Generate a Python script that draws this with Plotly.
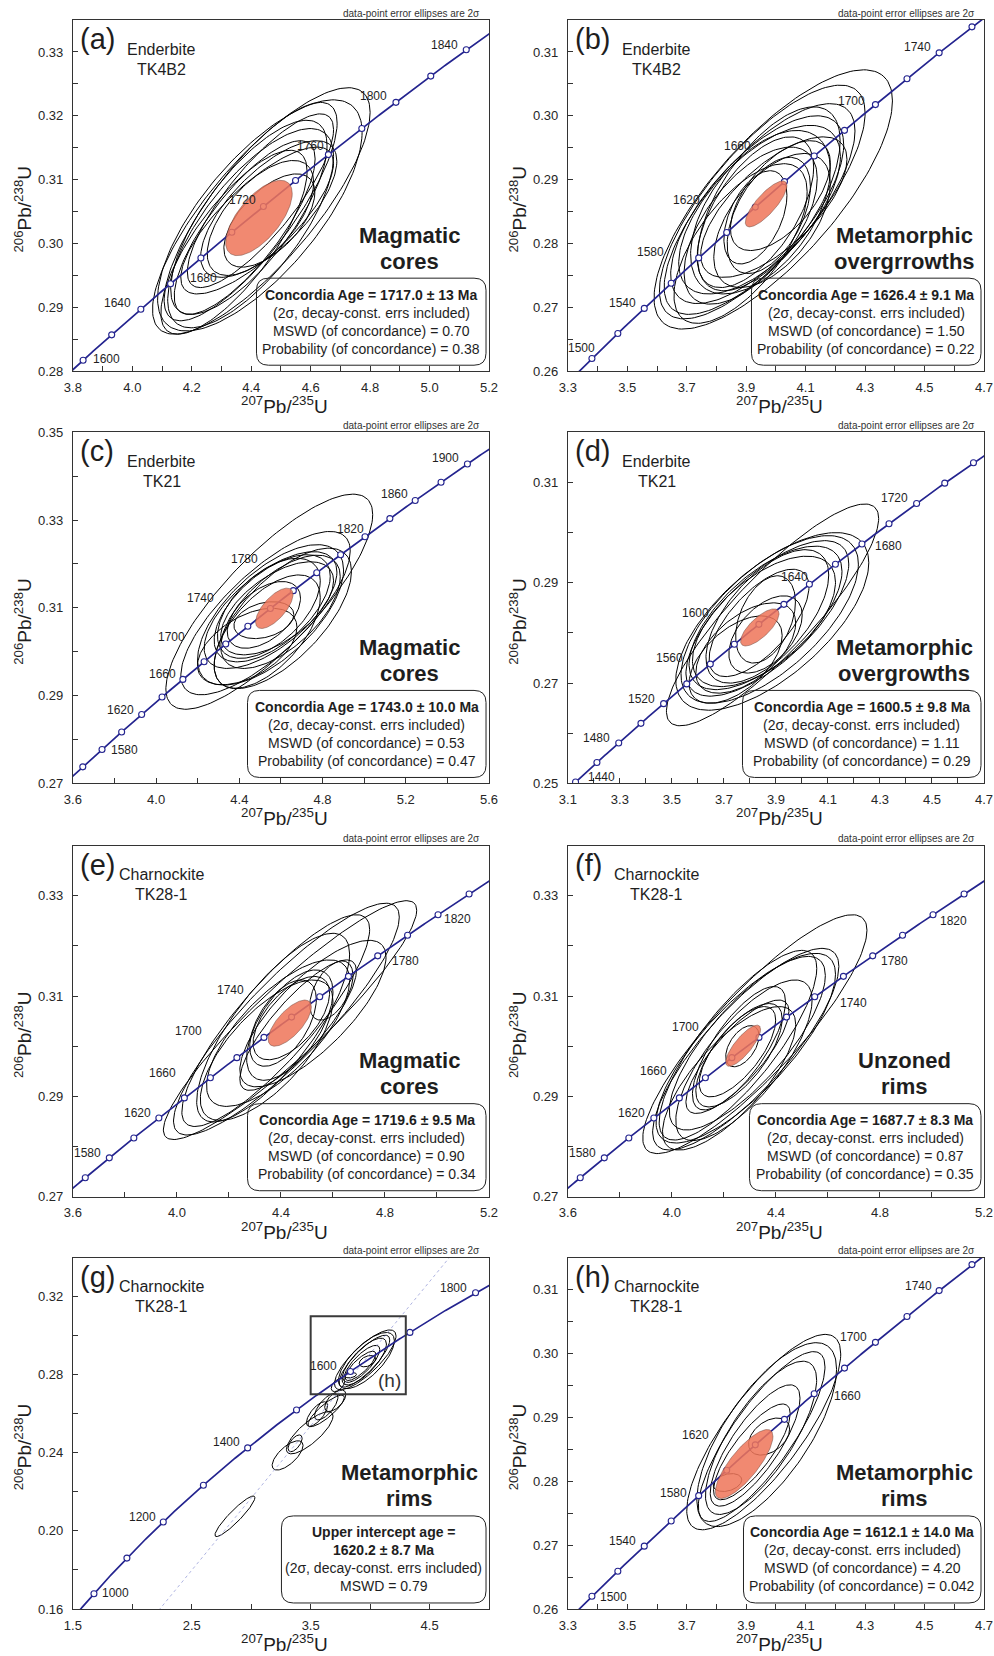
import numpy as np
import plotly.graph_objects as go

# U decay constants (1/yr)
LAMBDA_238 = 1.55125e-10
LAMBDA_235 = 9.8485e-10

# ---------------------------------------------------------------------------
# Analyses: (207Pb/235U, 2s, 206Pb/238U, 2s, rho)
# ---------------------------------------------------------------------------
ELL_A = [
    (4.434, 0.366, 0.3051, 0.0193, 0.80),
    (4.429, 0.344, 0.3044, 0.0181, 0.72),
    (4.398, 0.291, 0.3050, 0.0171, 0.81),
    (4.398, 0.279, 0.3024, 0.0156, 0.72),
    (4.378, 0.237, 0.3025, 0.0136, 0.79),
    (4.420, 0.257, 0.3036, 0.0115, 0.78),
    (4.431, 0.179, 0.3040, 0.0090, 0.62),
    (4.461, 0.153, 0.3036, 0.0073, 0.60),
    (4.342, 0.246, 0.3002, 0.0144, 0.77),
    (4.392, 0.263, 0.3041, 0.0152, 0.74),
    (4.431, 0.246, 0.3067, 0.0136, 0.82),
    (4.459, 0.229, 0.3054, 0.0107, 0.70),
]
MEAN_A = (4.426, 0.112, 0.3040, 0.0059, 0.65)

ELL_B = [
    (3.991, 0.401, 0.2869, 0.0203, 0.76),
    (3.954, 0.346, 0.2865, 0.0183, 0.76),
    (3.945, 0.321, 0.2854, 0.0165, 0.74),
    (3.937, 0.291, 0.2853, 0.0147, 0.69),
    (3.945, 0.272, 0.2853, 0.0132, 0.63),
    (3.948, 0.235, 0.2849, 0.0128, 0.52),
    (3.931, 0.196, 0.2849, 0.0118, 0.60),
    (3.931, 0.106, 0.2841, 0.0073, 0.47),
    (3.976, 0.140, 0.2844, 0.0091, 0.50),
    (3.915, 0.224, 0.2828, 0.0123, 0.60),
    (3.976, 0.240, 0.2870, 0.0144, 0.63),
    (3.987, 0.196, 0.2836, 0.0105, 0.55),
    (3.881, 0.224, 0.2800, 0.0125, 0.65),
    (3.993, 0.246, 0.2857, 0.0110, 0.68),
    (4.015, 0.168, 0.2875, 0.0086, 0.60),
]
MEAN_B = (3.967, 0.070, 0.2862, 0.0036, 0.80)

ELL_C = [
    (4.544, 0.497, 0.3114, 0.0245, 0.81),
    (4.526, 0.407, 0.3088, 0.0186, 0.76),
    (4.550, 0.351, 0.3084, 0.0160, 0.64),
    (4.550, 0.319, 0.3095, 0.0133, 0.65),
    (4.558, 0.279, 0.3099, 0.0122, 0.60),
    (4.542, 0.247, 0.3099, 0.0114, 0.55),
    (4.582, 0.271, 0.3099, 0.0106, 0.59),
    (4.609, 0.330, 0.3076, 0.0160, 0.67),
    (4.518, 0.176, 0.3084, 0.0076, 0.50),
    (4.518, 0.144, 0.3072, 0.0042, 0.30),
    (4.438, 0.239, 0.3012, 0.0087, 0.50),
    (4.534, 0.255, 0.3046, 0.0129, 0.60),
    (4.598, 0.287, 0.3091, 0.0129, 0.62),
]
MEAN_C = (4.568, 0.090, 0.3099, 0.0046, 0.68)

ELL_D = [
    (3.887, 0.408, 0.2836, 0.0221, 0.87),
    (3.886, 0.371, 0.2823, 0.0177, 0.66),
    (3.876, 0.341, 0.2827, 0.0167, 0.66),
    (3.867, 0.313, 0.2829, 0.0155, 0.70),
    (3.860, 0.294, 0.2830, 0.0143, 0.65),
    (3.854, 0.275, 0.2823, 0.0130, 0.60),
    (3.835, 0.192, 0.2820, 0.0107, 0.67),
    (3.860, 0.141, 0.2797, 0.0077, 0.50),
    (3.860, 0.115, 0.2827, 0.0087, 0.40),
    (3.745, 0.179, 0.2747, 0.0087, 0.55),
    (3.784, 0.192, 0.2770, 0.0090, 0.55),
    (3.867, 0.236, 0.2833, 0.0133, 0.62),
]
MEAN_D = (3.838, 0.074, 0.2811, 0.0037, 0.74)

ELL_E = [
    (4.435, 0.487, 0.3052, 0.0238, 0.92),
    (4.421, 0.434, 0.3054, 0.0231, 0.88),
    (4.380, 0.361, 0.3051, 0.0211, 0.86),
    (4.370, 0.294, 0.3037, 0.0188, 0.78),
    (4.389, 0.275, 0.3026, 0.0146, 0.72),
    (4.523, 0.281, 0.3065, 0.0146, 0.77),
    (4.466, 0.224, 0.3042, 0.0130, 0.83),
    (4.434, 0.166, 0.3042, 0.0110, 0.60),
    (4.408, 0.128, 0.3046, 0.0086, 0.55),
    (4.440, 0.147, 0.3056, 0.0083, 0.60),
    (4.594, 0.083, 0.3111, 0.0059, 0.50),
    (4.345, 0.255, 0.2992, 0.0140, 0.70),
]
MEAN_E = (4.434, 0.083, 0.3046, 0.0046, 0.70)

ELL_F = [
    (4.319, 0.431, 0.3024, 0.0238, 0.87),
    (4.284, 0.358, 0.2994, 0.0201, 0.82),
    (4.284, 0.345, 0.2996, 0.0189, 0.78),
    (4.254, 0.303, 0.3002, 0.0189, 0.81),
    (4.290, 0.300, 0.3006, 0.0173, 0.78),
    (4.252, 0.198, 0.2979, 0.0113, 0.80),
    (4.258, 0.179, 0.2996, 0.0123, 0.75),
    (4.258, 0.166, 0.2982, 0.0103, 0.70),
    (4.252, 0.147, 0.2989, 0.0090, 0.70),
    (4.271, 0.064, 0.3000, 0.0041, 0.50),
    (4.277, 0.262, 0.2972, 0.0160, 0.75),
    (4.220, 0.256, 0.2936, 0.0143, 0.75),
]
MEAN_F = (4.274, 0.067, 0.3001, 0.0041, 0.80)

ELL_H = [
    (3.959, 0.259, 0.2877, 0.0153, 0.80),
    (3.969, 0.235, 0.2873, 0.0144, 0.71),
    (3.952, 0.213, 0.2870, 0.0133, 0.82),
    (3.950, 0.187, 0.2868, 0.0120, 0.75),
    (3.930, 0.151, 0.2856, 0.0095, 0.78),
    (3.919, 0.129, 0.2846, 0.0075, 0.80),
    (3.977, 0.069, 0.2870, 0.0029, 0.40),
    (3.837, 0.048, 0.2798, 0.0014, 0.30),
]
MEAN_H = (3.893, 0.097, 0.2827, 0.0054, 0.80)

# discordant rim analyses (shown together with ELL_H in panel g)
ELL_G_DISC = [
    (2.863, 0.168, 0.2075, 0.0104, 0.92),
    (3.306, 0.130, 0.2387, 0.0075, 0.68),
    (3.492, 0.196, 0.2503, 0.0108, 0.79),
    (3.369, 0.059, 0.2449, 0.0043, 0.60),
    (3.553, 0.089, 0.2599, 0.0063, 0.70),
    (3.631, 0.098, 0.2637, 0.0068, 0.70),
    (3.630, 0.153, 0.2615, 0.0081, 0.85),
    (3.707, 0.089, 0.2667, 0.0055, 0.60),
    (3.729, 0.056, 0.2748, 0.0034, 0.50),
]
# discordia intercept ages (Ma)
DISCORDIA_G = (-60.0, 1620.2)

# concordia age ticks: (first, last, step) in Ma, and labelled ages
GRID_A, LABELS_A = (1560, 1880, 20), [1600, 1640, 1680, 1720, 1760, 1800, 1840]
GRID_B, LABELS_B = (1480, 1760, 20), [1500, 1540, 1580, 1620, 1660, 1700, 1740]
GRID_C, LABELS_C = (1540, 1920, 20), [1580, 1620, 1660, 1700, 1740, 1780, 1820, 1860, 1900]
GRID_D, LABELS_D = (1420, 1760, 20), [1440, 1480, 1520, 1560, 1600, 1640, 1680, 1720]
GRID_E, LABELS_E = (1560, 1840, 20), [1580, 1620, 1660, 1700, 1740, 1780, 1820]
GRID_F, LABELS_F = (1560, 1840, 20), [1580, 1620, 1660, 1700, 1740, 1780, 1820]
GRID_G, LABELS_G = (900, 1900, 100), [1000, 1200, 1400, 1600, 1800]
GRID_H, LABELS_H = (1480, 1760, 20), [1500, 1540, 1580, 1620, 1660, 1700, 1740]

SAMPLE_TK4B2 = ["Enderbite", "TK4B2"]
SAMPLE_TK21 = ["Enderbite", "TK21"]
SAMPLE_TK28 = ["Charnockite", "TK28-1"]

GROUP_A = ["Magmatic", "cores"]
GROUP_B = ["Metamorphic", "overgrrowths"]
GROUP_C = ["Magmatic", "cores"]
GROUP_D = ["Metamorphic", "overgrowths"]
GROUP_E = ["Magmatic", "cores"]
GROUP_F = ["Unzoned", "rims"]
GROUP_G = ["Metamorphic", "rims"]
GROUP_H = ["Metamorphic", "rims"]

ERRS = "(2σ, decay-const. errs included)"
STATS_A = ["Concordia Age = 1717.0 ± 13 Ma", ERRS, "MSWD (of concordance) = 0.70", "Probability (of concordance) = 0.38"]
STATS_B = ["Concordia Age = 1626.4 ± 9.1 Ma", ERRS, "MSWD (of concordance) = 1.50", "Probability (of concordance) = 0.22"]
STATS_C = ["Concordia Age = 1743.0 ± 10.0 Ma", ERRS, "MSWD (of concordance) = 0.53", "Probability (of concordance) = 0.47"]
STATS_D = ["Concordia Age = 1600.5 ± 9.8 Ma", ERRS, "MSWD (of concordance) = 1.11", "Probability (of concordance) = 0.29"]
STATS_E = ["Concordia Age = 1719.6 ± 9.5 Ma", ERRS, "MSWD (of concordance) = 0.90", "Probability (of concordance) = 0.34"]
STATS_F = ["Concordia Age = 1687.7 ± 8.3 Ma", ERRS, "MSWD (of concordance) = 0.87", "Probability (of concordance) = 0.35"]
STATS_G = ["Upper intercept age =", "1620.2 ± 8.7 Ma", ERRS, "MSWD = 0.79"]
STATS_H = ["Concordia Age = 1612.1 ± 14.0 Ma", ERRS, "MSWD (of concordance) = 4.20", "Probability (of concordance) = 0.042"]

# ---------------------------------------------------------------------------
# Layout / style
# ---------------------------------------------------------------------------
W, H = 994, 1656
INSET = 8                      # page inset around the drawing area
COL_LEFT = [72, 568]
ROW_TOP = [21, 433, 846, 1258]
PLOT_W, PLOT_H = 417, 351

FONT = "Liberation Sans, Arial, Helvetica, sans-serif"
NAVY = "#24248f"
INK = "#1e1e1e"
MEAN_FILL = "rgba(239,118,90,0.86)"

# age-label offsets from their concordia tick (dx right, dy up) in px
OFFS_A = {1600: (23, 1), 1640: (-23, 6), 1680: (3, -20), 1720: (-21, 6), 1760: (-18, 9), 1800: (-22, 6), 1840: (-22, 5)}
OFFS_B = {1500: (-10, 11), 1540: (-22, 5), 1580: (-48, 6), 1620: (-69, 7), 1660: (-77, 10), 1700: (-24, 4), 1740: (-22, 6)}
OFFS_C = {1580: (22, -1), 1620: (-21, 5), 1660: (-20, 5), 1700: (-54, 7), 1740: (-70, 10), 1780: (-72, 14),
          1820: (-15, 8), 1860: (-21, 6), 1900: (-22, 6)}
OFFS_D = {1440: (26, 5), 1480: (-22, 5), 1520: (-22, 5), 1560: (-41, 6), 1600: (-63, 11), 1640: (-15, 7),
          1680: (27, -2), 1720: (-22, 6)}
OFFS_E = {1580: (-22, 5), 1620: (-21, 5), 1660: (-48, 5), 1700: (-75, 6), 1740: (-89, 7), 1780: (28, -5), 1820: (19, -4)}
OFFS_F = {1580: (-22, 5), 1620: (-22, 5), 1660: (-52, 7), 1700: (-73, 10), 1740: (39, -6), 1780: (22, -5), 1820: (20, -6)}
OFFS_G = {1000: (22, 1), 1200: (-21, 5), 1400: (-21, 6), 1600: (-27, 5), 1800: (-22, 5)}
OFFS_H = {1500: (22, -1), 1540: (-22, 5), 1580: (-25, 3), 1620: (-60, 10), 1660: (33, -2), 1700: (-22, 5), 1740: (-21, 5)}

PANELS = [
    dict(tag="(a)", ell=ELL_A, mean=MEAN_A, sample=SAMPLE_TK4B2, group=GROUP_A, stats=STATS_A, bold=1,
         xr=(3.8, 5.2), xt=(3.8, 0.2, 0.1), yr=(0.28, 0.335), yt=(0.28, 0.01, 0.005),
         grid=GRID_A, labels=LABELS_A, offs=OFFS_A, boxw=230, col=0, row=0),
    dict(tag="(b)", ell=ELL_B, mean=MEAN_B, sample=SAMPLE_TK4B2, group=GROUP_B, stats=STATS_B, bold=1,
         xr=(3.3, 4.7), xt=(3.3, 0.2, 0.1), yr=(0.26, 0.315), yt=(0.26, 0.01, 0.005),
         grid=GRID_B, labels=LABELS_B, offs=OFFS_B, boxw=230, col=1, row=0),
    dict(tag="(c)", ell=ELL_C, mean=MEAN_C, sample=SAMPLE_TK21, group=GROUP_C, stats=STATS_C, bold=1,
         xr=(3.6, 5.6), xt=(3.6, 0.4, 0.2), yr=(0.27, 0.35), yt=(0.27, 0.02, 0.01),
         grid=GRID_C, labels=LABELS_C, offs=OFFS_C, boxw=239, col=0, row=1),
    dict(tag="(d)", ell=ELL_D, mean=MEAN_D, sample=SAMPLE_TK21, group=GROUP_D, stats=STATS_D, bold=1,
         xr=(3.1, 4.7), xt=(3.1, 0.2, 0.1), yr=(0.25, 0.32), yt=(0.25, 0.02, 0.01),
         grid=GRID_D, labels=LABELS_D, offs=OFFS_D, boxw=239, col=1, row=1),
    dict(tag="(e)", ell=ELL_E, mean=MEAN_E, sample=SAMPLE_TK28, group=GROUP_E, stats=STATS_E, bold=1,
         xr=(3.6, 5.2), xt=(3.6, 0.4, 0.2), yr=(0.27, 0.34), yt=(0.27, 0.02, 0.01),
         grid=GRID_E, labels=LABELS_E, offs=OFFS_E, boxw=239, col=0, row=2),
    dict(tag="(f)", ell=ELL_F, mean=MEAN_F, sample=SAMPLE_TK28, group=GROUP_F, stats=STATS_F, bold=1,
         xr=(3.6, 5.2), xt=(3.6, 0.4, 0.2), yr=(0.27, 0.34), yt=(0.27, 0.02, 0.01),
         grid=GRID_F, labels=LABELS_F, offs=OFFS_F, boxw=232, col=1, row=2),
    dict(tag="(g)", ell=ELL_H + ELL_G_DISC, mean=None, sample=SAMPLE_TK28, group=GROUP_G, stats=STATS_G, bold=2,
         xr=(1.5, 5.0), xt=(1.5, 1.0, 0.5), yr=(0.16, 0.34), yt=(0.16, 0.04, 0.02),
         grid=GRID_G, labels=LABELS_G, offs=OFFS_G, boxw=205, col=0, row=3),
    dict(tag="(h)", ell=ELL_H, mean=MEAN_H, sample=SAMPLE_TK28, group=GROUP_H, stats=STATS_H, bold=1,
         xr=(3.3, 4.7), xt=(3.3, 0.2, 0.1), yr=(0.26, 0.315), yt=(0.26, 0.01, 0.005),
         grid=GRID_H, labels=LABELS_H, offs=OFFS_H, boxw=238, col=1, row=3),
]
ZOOM_BOX_G = (3.5, 4.3, 0.27, 0.31)


def concordia(age_ma):
    t = np.asarray(age_ma, dtype=float) * 1e6
    return np.expm1(LAMBDA_235 * t), np.expm1(LAMBDA_238 * t)


def ellipse(x, sx, y, sy, rho, n=160):
    th = np.linspace(0, 2 * np.pi, n)
    ex = x + sx * np.cos(th)
    ey = y + sy * (rho * np.cos(th) + np.sqrt(1 - rho ** 2) * np.sin(th))
    return ex, ey


# page pixel -> paper fraction (paper area sits INSET px inside the page)
def PX(v):
    return (v - INSET) / (W - 2 * INSET)


def PY(v):
    return 1 - (v - INSET) / (H - 2 * INSET)


def rounded_box(x0, y0, x1, y1, r):
    def p(x, y):
        return f"{PX(x):.5f},{PY(y):.5f}"
    return (f"M {p(x0 + r, y0)} L {p(x1 - r, y0)} Q {p(x1, y0)} {p(x1, y0 + r)} "
            f"L {p(x1, y1 - r)} Q {p(x1, y1)} {p(x1 - r, y1)} "
            f"L {p(x0 + r, y1)} Q {p(x0, y1)} {p(x0, y1 - r)} "
            f"L {p(x0, y0 + r)} Q {p(x0, y0)} {p(x0 + r, y0)} Z")


def text(x, y, s, size, bold=False, xanchor="center", yanchor="middle", angle=0, color=INK):
    return dict(x=PX(x), y=PY(y), xref="paper", yref="paper", text=f"<b>{s}</b>" if bold else s,
                showarrow=False, xanchor=xanchor, yanchor=yanchor, textangle=angle,
                font=dict(family=FONT, size=size, color=color))


AXIS = dict(showline=True, linecolor="#333333", linewidth=1, mirror=True, showgrid=False, zeroline=False,
            ticks="inside", ticklen=5, tickwidth=1, tickcolor="#333333",
            tickfont=dict(family=FONT, size=13, color="#262626"))

fig = go.Figure()
annotations, shapes = [], []

for i, p in enumerate(PANELS, start=1):
    sfx = "" if i == 1 else str(i)
    xa, ya = "x" + sfx, "y" + sfx
    L = COL_LEFT[p["col"]]
    T = ROW_TOP[p["row"]]
    R, B = L + PLOT_W, T + PLOT_H

    fig.update_layout(**{
        "xaxis" + sfx: dict(AXIS, domain=[PX(L), PX(R)], anchor=ya, range=list(p["xr"]),
                            tick0=p["xt"][0], dtick=p["xt"][1], tickformat=".1f", ticklabelstandoff=4,
                            minor=dict(tick0=p["xt"][0], dtick=p["xt"][2], ticks="inside", ticklen=5,
                                       tickcolor="#333333")),
        "yaxis" + sfx: dict(AXIS, domain=[PY(B), PY(T)], anchor=xa, range=list(p["yr"]),
                            tick0=p["yt"][0], dtick=p["yt"][1], tickformat=".2f", ticklabelstandoff=6,
                            minor=dict(tick0=p["yt"][0], dtick=p["yt"][2], ticks="inside", ticklen=5,
                                       tickcolor="#333333")),
    })

    # data-point error ellipses
    ex, ey = [], []
    for e in p["ell"]:
        x_, y_ = ellipse(*e)
        ex += list(x_) + [None]
        ey += list(y_) + [None]
    fig.add_trace(go.Scatter(x=ex, y=ey, mode="lines", line=dict(color="black", width=1.0),
                             xaxis=xa, yaxis=ya, hoverinfo="skip", showlegend=False))

    # discordia chord
    if p["tag"] == "(g)":
        lx, ly = concordia(list(DISCORDIA_G))
        s = np.array([0.0, 1.3])
        fig.add_trace(go.Scatter(x=lx[0] + s * (lx[1] - lx[0]), y=ly[0] + s * (ly[1] - ly[0]),
                                 mode="lines", line=dict(color="rgba(120,130,205,0.75)", width=0.8, dash="dot"),
                                 xaxis=xa, yaxis=ya, hoverinfo="skip", showlegend=False))

    # concordia curve with age ticks
    a0, a1, st = p["grid"]
    cx, cy = concordia(np.linspace(a0 - 150, a1 + 150, 700))
    fig.add_trace(go.Scatter(x=cx, y=cy, mode="lines", line=dict(color=NAVY, width=1.7),
                             xaxis=xa, yaxis=ya, hoverinfo="skip", showlegend=False))
    mx, my = concordia(np.arange(a0, a1 + 1, st))
    fig.add_trace(go.Scatter(x=mx, y=my, mode="markers",
                             marker=dict(size=6, color="white", line=dict(color=NAVY, width=1.1)),
                             xaxis=xa, yaxis=ya, hoverinfo="skip", showlegend=False))

    # concordia-age ellipse
    if p["mean"] is not None:
        x_, y_ = ellipse(*p["mean"])
        fig.add_trace(go.Scatter(x=x_, y=y_, mode="lines", fill="toself", fillcolor=MEAN_FILL,
                                 line=dict(color="rgba(110,70,60,0.7)", width=0.7),
                                 xaxis=xa, yaxis=ya, hoverinfo="skip", showlegend=False))

    for age in p["labels"]:
        lx, ly = concordia(age)
        dx, dy = p["offs"][age]
        annotations.append(dict(x=float(lx), y=float(ly), xref=xa, yref=ya, text=str(age), showarrow=False,
                                xshift=dx, yshift=dy, xanchor="center", yanchor="middle",
                                font=dict(family=FONT, size=12, color=INK)))

    # panel texts
    annotations.append(text(L + 5, T + 19, p["tag"], 29, xanchor="left"))
    annotations.append(text(L + 89, T + 29, p["sample"][0], 16))
    annotations.append(text(L + 89, T + 49, p["sample"][1], 16))
    annotations.append(text(R - 80, B - 136, p["group"][0], 22, bold=True))
    annotations.append(text(R - 80, B - 110, p["group"][1], 22, bold=True))
    annotations.append(text(R - 7, T - 7, "data-point error ellipses are 2σ", 10, xanchor="right",
                            color="#333333"))
    annotations.append(text((L + R) / 2 + 4, B + 34, "<sup>207</sup>Pb/<sup>235</sup>U", 19))
    annotations.append(text(L - 50, (T + B) / 2 + 13, "<sup>206</sup>Pb/<sup>238</sup>U", 19, angle=-90))

    # statistics box
    bx1, by1 = R - 3, B - 6
    bx0, by0 = bx1 - p["boxw"], by1 - 87
    shapes.append(dict(type="path", path=rounded_box(bx0, by0, bx1, by1, 12), xref="paper", yref="paper",
                       line=dict(color="#222222", width=1), fillcolor="rgba(0,0,0,0)", layer="above"))
    mid_x, mid_y = (bx0 + bx1) / 2, (by0 + by1) / 2
    for k, line in enumerate(p["stats"]):
        annotations.append(text(mid_x, mid_y + (k - 1.5) * 18, line, 14, bold=k < p["bold"]))

    if p["tag"] == "(g)":
        zx0, zx1, zy0, zy1 = ZOOM_BOX_G
        shapes.append(dict(type="rect", xref=xa, yref=ya, x0=zx0, x1=zx1, y0=zy0, y1=zy1,
                           line=dict(color="#3a3a3a", width=2)))
        annotations.append(dict(x=zx1, y=zy0, xref=xa, yref=ya, text="(h)", showarrow=False,
                                xanchor="right", yanchor="bottom", xshift=-3, yshift=1,
                                font=dict(family=FONT, size=19, color="#333333")))

fig.update_layout(width=W, height=H, margin=dict(l=0, r=0, t=0, b=0), autosize=False,
                  paper_bgcolor="white", plot_bgcolor="white", showlegend=False,
                  font=dict(family=FONT, color=INK), annotations=annotations, shapes=shapes)

fig.write_html("out.html")
